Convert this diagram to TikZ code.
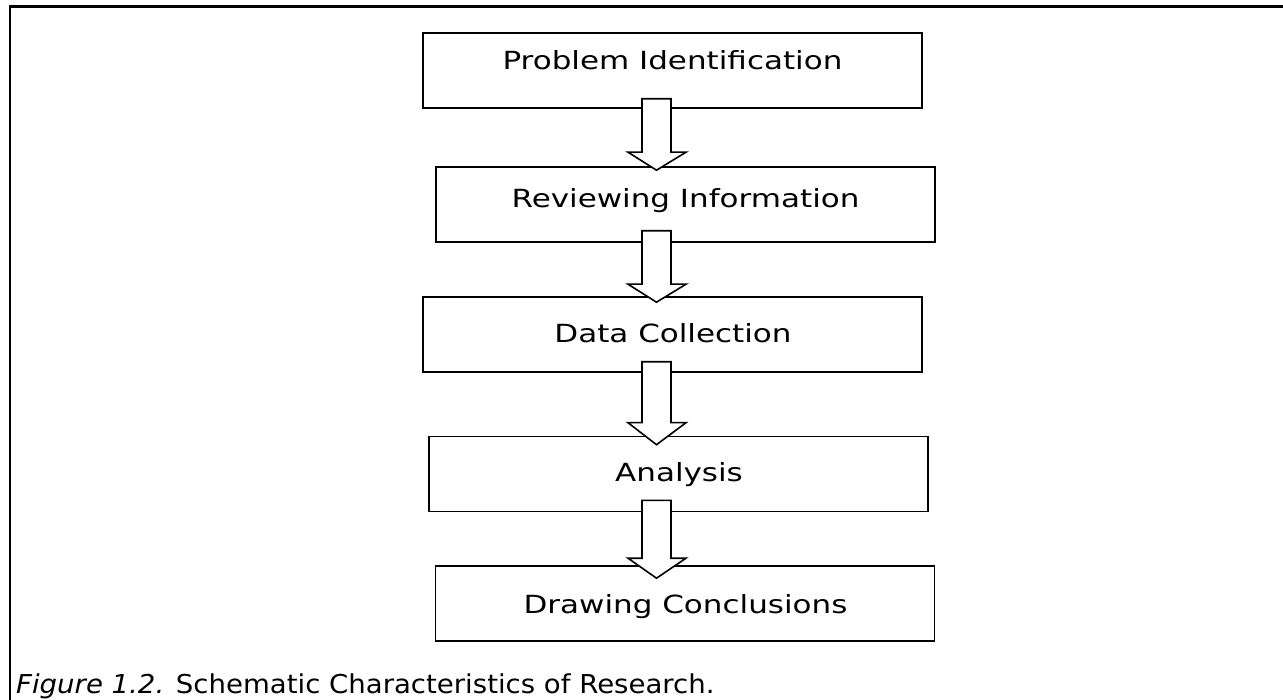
\documentclass[tikz,border=0pt]{standalone}
\usepackage{fontspec}
\setmainfont{DejaVu Sans}
\newfontfamily\boxfont[FakeStretch=1.24]{DejaVu Sans}
\newfontfamily\capfont[FakeStretch=1.06]{DejaVu Sans}
\usetikzlibrary{calc}
\tikzset{
  stepbox/.style={draw=black, line width=1.6pt, fill=white, inner sep=0pt,
    minimum width=499pt, minimum height=75pt},
  boxlabel/.style={inner sep=0pt, anchor=base, font=\boxfont\fontsize{25pt}{28pt}\selectfont},
  blockarrow/.style={draw=black, line width=1.6pt, fill=white, line join=miter},
  frameline/.style={draw=black, line width=2.6pt}
}
% #1 from node, #2 to node, #3 shaft top above from.south, #4 tip below to.north, #5 head length
\newcommand\blockarr[5]{%
  \path let \p1=(#1.south), \p2=(#2.north) in
    [blockarrow] (642,\y1+#3) -- (671,\y1+#3) -- (671,\y2-#4+#5) -- (686,\y2-#4+#5)
    -- (656.5,\y2-#4) -- (628,\y2-#4+#5) -- (642,\y2-#4+#5) -- cycle;%
}
\begin{document}
\begin{tikzpicture}[x=1pt,y=-1pt]
\useasboundingbox (0,0) rectangle (1283,700);
\coordinate (fc) at (10,6.5);
\coordinate (ft) at (1283,6.5);
\coordinate (fb) at (10,700);
\draw[frameline] (fb) -- (fc) -- (ft);

\node[stepbox] (b1) at (672.5,70.5) {};
\node[stepbox] (b2) at (685.5,204.5) {};
\node[stepbox] (b3) at (672.5,334.5) {};
\node[stepbox] (b4) at (678.5,474) {};
\node[stepbox] (b5) at (685,603.5) {};

\node[boxlabel] (t1) at (672.5,70) {Problem Identification};
\node[boxlabel] (t2) at (685.5,207.5) {Reviewing Information};
\node[boxlabel] (t3) at (673,343) {Data Collection};
\node[boxlabel] (t4) at (679,482) {Analysis};
\node[boxlabel] (t5) at (685.5,613) {Drawing Conclusions};

\blockarr{b1}{b2}{10}{4}{18}
\blockarr{b2}{b3}{12}{6}{18}
\blockarr{b3}{b4}{11}{9}{22}
\blockarr{b4}{b5}{12}{13}{20}

\node[inner sep=0pt, anchor=base west, font=\capfont\fontsize{26pt}{28pt}\selectfont] (cap) at (16,693)
  {\textit{Figure 1.2.} Schematic Characteristics of Research.};
\end{tikzpicture}
\end{document}
